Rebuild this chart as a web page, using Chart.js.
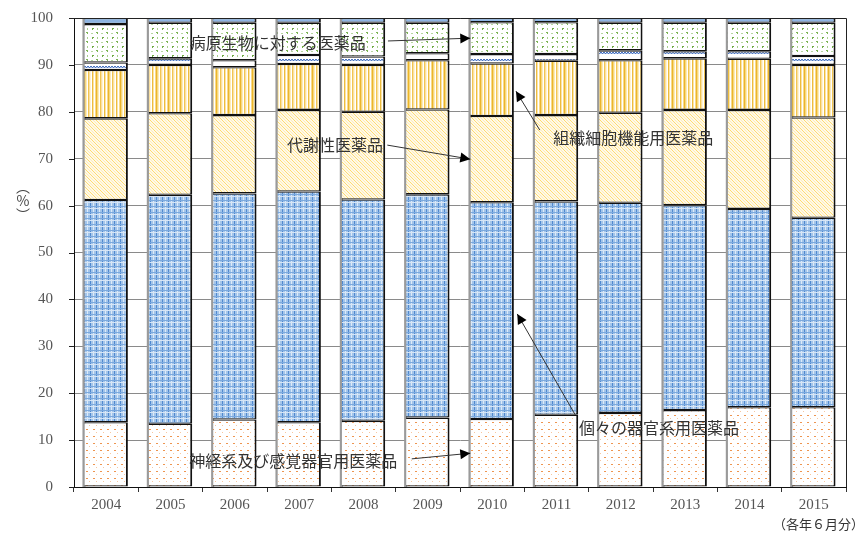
<!DOCTYPE html>
<html>
<head>
<meta charset="utf-8">
<script src="https://cdn.jsdelivr.net/npm/chart.js@4/dist/chart.umd.min.js"></script>
<style>
  html, body { margin: 0; padding: 0; background: #fff; }
  #wrap { width: 867px; height: 534px; }
</style>
</head>
<body>
<div id="wrap"><canvas id="chart" width="867" height="534"></canvas></div>
<script>
// 各年6月分の構成比（%）
const years = ['2004', '2005', '2006', '2007', '2008', '2009', '2010', '2011', '2012', '2013', '2014', '2015'];
const shinkei = [13.8, 13.5, 14.4, 13.8, 14.1, 14.8, 14.5, 15.4, 15.8, 16.4, 17.0, 17.0];
const kikan   = [47.4, 48.8, 48.2, 49.2, 47.2, 47.6, 46.2, 45.5, 44.8, 43.7, 42.3, 40.4];
const taisha  = [17.4, 17.4, 16.7, 17.4, 18.7, 18.1, 18.4, 18.4, 19.2, 20.3, 21.1, 21.4];
const soshiki = [10.3, 10.3, 10.2, 9.8, 10.0, 10.5, 11.2, 11.6, 11.2, 11.0, 10.9, 11.2];
const shoyaku = [1.6, 1.4, 1.5, 1.9, 1.8, 1.5, 2.0, 1.4, 2.1, 1.5, 1.6, 1.9];
const byogen  = [8.2, 7.6, 8.0, 6.9, 7.2, 6.5, 6.8, 6.8, 5.9, 6.1, 6.1, 7.1];
const sonota  = [1.3, 1.0, 1.0, 1.0, 1.0, 1.0, 0.9, 0.9, 1.0, 1.0, 1.0, 1.0];
const yTicks = [0, 10, 20, 30, 40, 50, 60, 70, 80, 90, 100];

// 注記（カテゴリ位置, 値）: 文字の左端、線の始点、矢印の先
const notes = [
  { text: '病原生物に対する医薬品', tx: 1.30, ty: 94.7, lx: 4.38, ly: 95.1, ax: 5.66, ay: 95.7 },
  { text: '組織細胞機能用医薬品', tx: 6.95, ty: 74.4, lx: 6.74, ly: 76.1, ax: 6.37, ay: 84.4 },
  { text: '代謝性医薬品', tx: 2.81, ty: 72.9, lx: 4.37, ly: 72.9, ax: 5.66, ay: 69.9 },
  { text: '個々の器官系用医薬品', tx: 7.35, ty: 12.6, lx: 7.29, ly: 15.4, ax: 6.39, ay: 36.9 },
  { text: '神経系及び感覚器官用医薬品', tx: 1.29, ty: 5.5, lx: 4.75, ly: 6.0, ax: 5.66, ay: 7.2 }
];

const JP = '"Noto Sans CJK JP", "Noto Sans", sans-serif';
const SERIF = '"Liberation Serif", "DejaVu Serif", serif';

function makePattern(w, h, draw) {
  const c = document.createElement('canvas');
  c.width = w; c.height = h;
  const g = c.getContext('2d');
  draw(g);
  return c.getContext('2d').createPattern(c, 'repeat');
}

const ctx = document.getElementById('chart').getContext('2d');

const patOrange = makePattern(7, 7, g => {
  g.fillStyle = '#fff'; g.fillRect(0, 0, 7, 7);
  g.fillStyle = '#EE9550'; g.fillRect(2, 2, 2, 1);
  g.fillStyle = '#F7C7A0'; g.fillRect(5, 5, 1, 1);
});
const patBlue = makePattern(6, 6, g => {
  g.fillStyle = '#A3C5EA'; g.fillRect(0, 0, 6, 6);
  g.fillStyle = '#5189CF'; g.fillRect(0, 0, 1, 6);
  g.fillStyle = '#DDEAF8'; g.fillRect(3, 0, 1, 6);
  g.fillStyle = '#7BA9DE'; g.fillRect(0, 2, 6, 1);
  g.fillStyle = '#D6E5F6'; g.fillRect(0, 4, 6, 1);
});
const patDiag = makePattern(6, 6, g => {
  g.fillStyle = '#FFF9E8'; g.fillRect(0, 0, 6, 6);
  g.fillStyle = '#FFDB70';
  for (let i = 0; i < 6; i++) g.fillRect(i, i, 1, 1);
  g.fillStyle = '#FFEDB8';
  for (let i = 0; i < 6; i++) g.fillRect((i + 3) % 6, i, 1, 1);
});
const patStripe = makePattern(12, 2, g => {
  const cols = ['#EBB52C', '#F6D77C', '#FDEBB8', '#FFFFFF', '#F1C553', '#FAE0A0', '#FFF3D2', '#FFFFFF', '#EDBC3E', '#FBE4A8', '#FFFFFF', '#F8DA8A'];
  cols.forEach((c, i) => { g.fillStyle = c; g.fillRect(i, 0, 1, 2); });
});
const patWave = makePattern(6, 7, g => {
  g.fillStyle = '#fff'; g.fillRect(0, 0, 6, 7);
  g.fillStyle = '#4A74C0';
  g.fillRect(0, 3, 2, 1); g.fillRect(2, 4, 1, 1); g.fillRect(3, 3, 2, 1); g.fillRect(5, 4, 1, 1);
  g.fillStyle = '#A8BFE6'; g.fillRect(0, 4, 2, 1); g.fillRect(3, 4, 2, 1);
});
const patGreen = makePattern(10, 9, g => {
  g.fillStyle = '#fff'; g.fillRect(0, 0, 10, 9);
  g.fillStyle = '#6FAA45'; g.fillRect(2, 1, 2, 1); g.fillRect(2, 2, 1, 1);
  g.fillStyle = '#A9CF8E'; g.fillRect(7, 1, 1, 2);
  g.fillStyle = '#7DB455'; g.fillRect(6, 5, 2, 1); g.fillRect(7, 6, 1, 1);
  g.fillStyle = '#B8D8A2'; g.fillRect(1, 6, 2, 1);
});

function series(label, data, fill) {
  return {
    label: label,
    data: data,
    backgroundColor: fill,
    borderColor: '#111',
    borderWidth: { top: 1.3, bottom: 1.3, left: 0, right: 2 },
    borderSkipped: false,
    barPercentage: 0.675,
    categoryPercentage: 1.0
  };
}

const frameAndNotes = {
  id: 'frameAndNotes',
  beforeDatasetsDraw(chart) {
    // 棒の左側の灰色の縁
    const c = chart.ctx;
    const meta = chart.getDatasetMeta(0);
    const area = chart.chartArea;
    const y = chart.scales.y;
    c.save();
    meta.data.forEach(bar => {
      const left = bar.x - bar.width / 2;
      c.fillStyle = '#9a9a9a';
      c.fillRect(left - 2, y.getPixelForValue(100), 3, area.bottom - y.getPixelForValue(100));
    });
    c.restore();
  },
  afterDraw(chart) {
    const c = chart.ctx;
    const area = chart.chartArea;
    const x = chart.scales.x;
    const y = chart.scales.y;
    c.save();
    // 枠線（上・右）
    c.strokeStyle = '#222';
    c.lineWidth = 1;
    c.beginPath();
    c.moveTo(area.left, area.top + 0.5);
    c.lineTo(area.right + 0.5, area.top + 0.5);
    c.lineTo(area.right + 0.5, area.bottom);
    c.stroke();

    // y軸の目盛り線
    c.strokeStyle = '#222';
    c.beginPath();
    yTicks.forEach(v => {
      const py = Math.round(y.getPixelForValue(v)) + 0.5;
      c.moveTo(area.left - 5, py);
      c.lineTo(area.left, py);
    });
    c.stroke();

    // 注記と矢印
    c.font = '16px ' + JP;
    c.textBaseline = 'middle';
    c.textAlign = 'left';
    notes.forEach(n => {
      c.fillStyle = '#333';
      c.fillText(n.text, x.getPixelForValue(n.tx), y.getPixelForValue(n.ty));
      const x0 = x.getPixelForValue(n.lx), y0 = y.getPixelForValue(n.ly);
      const x1 = x.getPixelForValue(n.ax), y1 = y.getPixelForValue(n.ay);
      c.strokeStyle = '#333';
      c.lineWidth = 1;
      c.beginPath();
      c.moveTo(x0, y0);
      c.lineTo(x1, y1);
      c.stroke();
      const ang = Math.atan2(y1 - y0, x1 - x0);
      const len = 10, half = 5;
      c.fillStyle = '#000';
      c.beginPath();
      c.moveTo(x1, y1);
      c.lineTo(x1 - len * Math.cos(ang) + half * Math.sin(ang), y1 - len * Math.sin(ang) - half * Math.cos(ang));
      c.lineTo(x1 - len * Math.cos(ang) - half * Math.sin(ang), y1 - len * Math.sin(ang) + half * Math.cos(ang));
      c.closePath();
      c.fill();
    });

    // 縦書きの単位
    c.font = '14px ' + JP;
    c.fillStyle = '#444';
    c.textAlign = 'center';
    const ux = 23, uy = y.getPixelForValue(61);
    c.fillText('︵', ux, uy - 14);
    c.fillText('%', ux, uy);
    c.fillText('︶', ux, uy + 14);

    // 注：各年6月分
    c.font = '13px ' + JP;
    c.textAlign = 'right';
    c.fillStyle = '#333';
    c.fillText('（各年６月分）', 864, 524);
    c.restore();
  }
};

new Chart(ctx, {
  type: 'bar',
  data: {
    labels: years,
    datasets: [
      series('神経系及び感覚器官用医薬品', shinkei, patOrange),
      series('個々の器官系用医薬品', kikan, patBlue),
      series('代謝性医薬品', taisha, patDiag),
      series('組織細胞機能用医薬品', soshiki, patStripe),
      series('生薬及び漢方処方に基づく医薬品', shoyaku, patWave),
      series('病原生物に対する医薬品', byogen, patGreen),
      series('その他', sonota, '#8DB4E2')
    ]
  },
  options: {
    responsive: false,
    animation: false,
    layout: { padding: { top: 18, right: 21, left: 0, bottom: 0 } },
    plugins: {
      legend: { display: false },
      tooltip: { enabled: false }
    },
    scales: {
      x: {
        stacked: true,
        offset: true,
        afterFit(scale) { scale.height = 47; },
        border: { color: '#111', width: 1 },
        grid: { offset: true, drawOnChartArea: false, tickLength: 5, color: '#333' },
        ticks: { color: '#555', font: { family: SERIF, size: 15 }, padding: 4, maxRotation: 0 }
      },
      y: {
        stacked: true,
        min: 0,
        max: 100,
        afterFit(scale) { scale.width = 74; },
        afterBuildTicks(scale) { scale.ticks = yTicks.map(v => ({ value: v })); },
        border: { color: '#111', width: 1 },
        grid: { color: '#8a8a8a', tickLength: 21, tickColor: 'rgba(0,0,0,0)' },
        ticks: { color: '#555', font: { family: SERIF, size: 15 }, padding: 0 }
      }
    }
  },
  plugins: [frameAndNotes]
});
</script>
</body>
</html>
